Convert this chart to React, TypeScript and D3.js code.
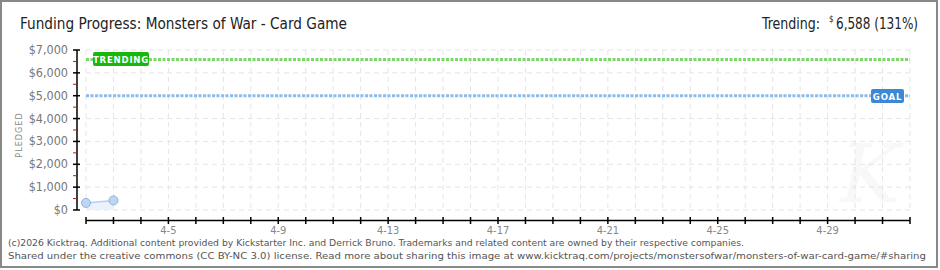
import React from "react";
import * as d3 from "d3";

const title = "Funding Progress: Monsters of War - Card Game";
const trendingText = "6,588 (131%)";
const goal = 5000;
const trending = 6588;
const yTicks = [0, 1000, 2000, 3000, 4000, 5000, 6000, 7000];
const yMinor = [500, 1500, 2500, 3500, 4500, 5500, 6500];
const startDate = "2026-04-02";
const endDate = "2026-05-02";
const labelDates = ["2026-04-05", "2026-04-09", "2026-04-13", "2026-04-17", "2026-04-21", "2026-04-25", "2026-04-29"];
const pointDates = ["2026-04-02", "2026-04-03"];
const pointValues = [310, 420];
const footer1 = "(c)2026 Kicktraq. Additional content provided by Kickstarter Inc. and Derrick Bruno. Trademarks and related content are owned by their respective companies.";
const footer2 = "Shared under the creative commons (CC BY-NC 3.0) license. Read more about sharing this image at www.kicktraq.com/projects/monstersofwar/monsters-of-war-card-game/#sharing";

const FONT = "'DejaVu Sans Condensed', 'DejaVu Sans', sans-serif";

export default function App() {
  const W = 940, H = 270;
  const parse = (s: string) => new Date(s + "T00:00:00Z");
  const x = d3.scaleUtc().domain([parse(startDate), parse(endDate)]).range([86, 910]);
  const y = d3.scaleLinear().domain([0, 7000]).range([210, 50]);
  const days = d3.utcDay.range(parse(startDate), d3.utcDay.offset(parse(endDate), 1));
  const pts = pointDates.map((d, i) => ({ d: parse(d), v: pointValues[i] }));
  const line = d3.line<any>().x(p => x(p.d)).y(p => y(p.v));
  const area = d3.area<any>().x(p => x(p.d)).y0(y(0)).y1(p => y(p.v));
  const fmt = (d: Date) => `${d.getUTCMonth() + 1}-${d.getUTCDate()}`;
  const yFmt = (v: number) => "$" + d3.format(",")(v);

  return (
    <svg width={W} height={H} style={{ position: "absolute", left: 0, top: 0, background: "#fff" }} fontFamily={FONT}>
      <rect x={0} y={0} width={W} height={H} fill="#fff" />
      <rect x={1} y={1} width={936} height={266} fill="none" stroke="#888" strokeWidth={2} />
      <text x={20} y={29} fontSize={15} fill="#222" textLength={327} lengthAdjust="spacingAndGlyphs">{title}</text>
      <text x={762} y={29} fontSize={15} fill="#222" textLength={58} lengthAdjust="spacingAndGlyphs">Trending:</text>
      <text x={829} y={22} fontSize={8} fill="#222">$</text>
      <text x={836} y={29} fontSize={15} fill="#222" textLength={82} lengthAdjust="spacingAndGlyphs">{trendingText}</text>

      {/* watermark */}
      <text x={870} y={202} fontSize={80} fill="#f8f8f8" fontStyle="italic" fontFamily="'DejaVu Serif', serif" textAnchor="middle">K</text>

      {/* grid */}
      {yTicks.map(v => (
        <line key={"gy" + v} x1={86} x2={910} y1={y(v)} y2={y(v)} stroke="#e5e5e5" strokeDasharray="5,4" />
      ))}
      {days.map((d, i) => (
        <line key={"gx" + i} x1={x(d)} x2={x(d)} y1={50} y2={210} stroke="#e5e5e5" strokeDasharray="5,4" />
      ))}

      {/* y axis */}
      <line x1={77} x2={77} y1={50} y2={210} stroke="#000" strokeWidth={1.5} />
      {yTicks.map(v => (
        <g key={"yt" + v}>
          <line x1={73} x2={80} y1={y(v)} y2={y(v)} stroke="#000" strokeWidth={1.5} />
          <text x={68} y={y(v) + 4} fontSize={12.5} fill="#777" textAnchor="end">{yFmt(v)}</text>
        </g>
      ))}
      {yMinor.map(v => (
        <line key={"ym" + v} x1={73} x2={76} y1={y(v)} y2={y(v)} stroke="#e00" strokeWidth={1} />
      ))}
      <text transform="translate(22,135) rotate(-90)" fontSize={9} fill="#888" textAnchor="middle" letterSpacing={1}>PLEDGED</text>

      {/* x axis */}
      <line x1={86} x2={910} y1={220.5} y2={220.5} stroke="#000" strokeWidth={1.5} />
      {days.map((d, i) => (
        <line key={"xt" + i} x1={x(d)} x2={x(d)} y1={217} y2={224} stroke="#000" strokeWidth={1.5} />
      ))}
      {labelDates.map(s => (
        <text key={s} x={x(parse(s))} y={234} fontSize={11} fill="#888" textAnchor="middle">{fmt(parse(s))}</text>
      ))}

      {/* data */}
      <path d={area(pts) || ""} fill="#eaf2fc" />
      <path d={line(pts) || ""} fill="none" stroke="#b5d1f0" strokeWidth={1.5} />
      {pts.map((p, i) => (
        <circle key={"p" + i} cx={x(p.d)} cy={y(p.v)} r={4.5} fill="#bdd7f3" stroke="#8eb2dc" strokeWidth={1} />
      ))}

      {/* goal & trending lines */}
      <line x1={86} x2={910} y1={y(goal)} y2={y(goal)} stroke="#8dbbea" strokeWidth={3} strokeDasharray="3,1.5" />
      <line x1={86} x2={910} y1={y(trending)} y2={y(trending)} stroke="#7fd66f" strokeWidth={3} strokeDasharray="3,1.5" />

      <rect x={93} y={52} width={56} height={14} rx={2} fill="#16b80c" />
      <text x={121} y={62.5} fontSize={9.5} fill="#fff" textAnchor="middle" letterSpacing={0.8} fontWeight="bold">TRENDING</text>
      <rect x={871} y={89} width={33} height={14} rx={2} fill="#3c88d6" />
      <text x={887.5} y={99.5} fontSize={9.5} fill="#fff" textAnchor="middle" letterSpacing={0.8} fontWeight="bold">GOAL</text>

      <text x={8} y={246} fontSize={9.5} fill="#555" textLength={736} lengthAdjust="spacingAndGlyphs">{footer1}</text>
      <text x={8} y={259} fontSize={9.5} fill="#555" textLength={918} lengthAdjust="spacingAndGlyphs">{footer2}</text>
    </svg>
  );
}
